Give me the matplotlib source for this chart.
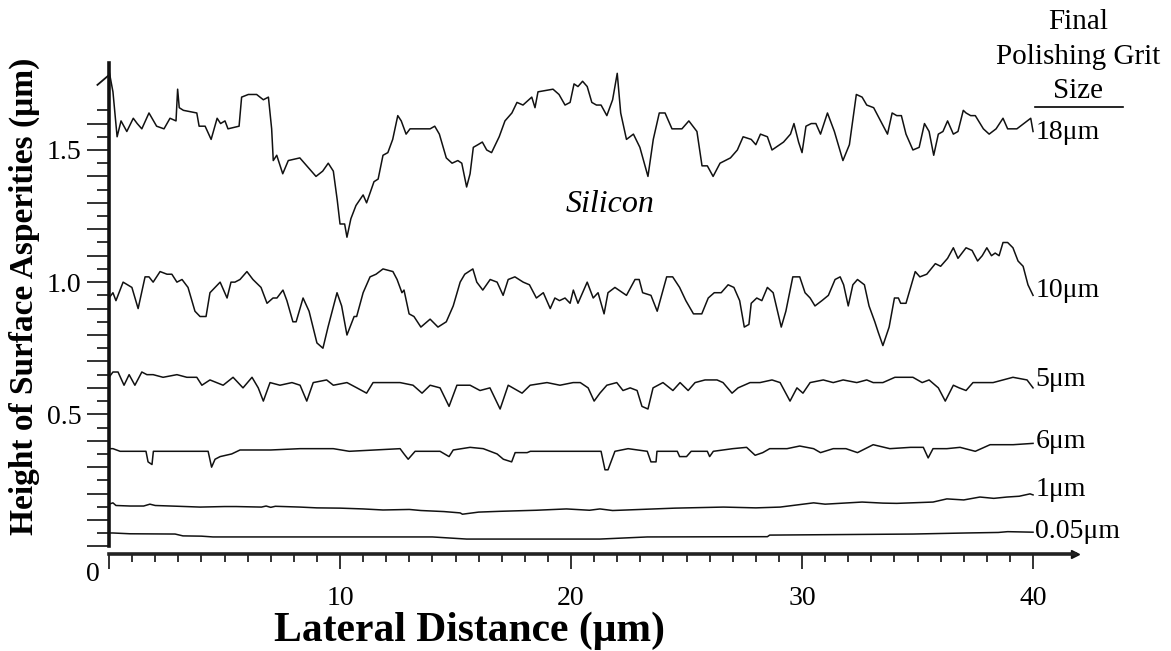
import numpy as np
import matplotlib
matplotlib.use("Agg")
import matplotlib.pyplot as plt
from matplotlib.lines import Line2D
from matplotlib.ticker import FixedLocator, FixedFormatter

# surface profiles, x in um, height in um
x_18 = [0.0, 0.17, 0.35, 0.52, 0.77, 1.05, 1.22, 1.42, 1.73, 2.06, 2.38, 2.64, 2.90, 2.97, 3.04,
        3.22, 3.80, 3.90, 4.16, 4.42, 4.68, 4.83, 5.02, 5.15, 5.63, 5.74, 6.03, 6.39, 6.68, 6.90,
        7.04, 7.11, 7.26, 7.52, 7.76, 8.26, 8.56, 8.96, 9.25, 9.49, 9.71, 9.88, 10.0, 10.2, 10.3,
        10.47, 10.69, 11.0, 11.15, 11.47, 11.65, 11.86, 12.07, 12.28, 12.50, 12.65, 12.86, 13.03,
        13.32, 13.9, 14.1, 14.3, 14.6, 14.85, 15.1, 15.27, 15.48, 15.63, 15.77, 15.97, 16.16,
        16.35, 16.56, 16.89, 17.14, 17.44, 17.66, 17.92, 18.3, 18.44, 18.57, 19.22, 19.48, 19.74,
        19.96, 20.13, 20.3, 20.5, 20.7, 20.9, 21.1, 21.3, 21.55, 21.8, 22.0, 22.15, 22.4, 22.7,
        22.98, 23.33, 23.56, 23.82, 24.07, 24.37, 24.8, 25.1, 25.45, 25.67, 25.9, 26.15, 26.45,
        26.9, 27.2, 27.45, 27.8, 28.0, 28.2, 28.5, 28.7, 29.2, 29.5, 29.65, 29.85, 30.0, 30.17,
        30.4, 30.6, 30.8, 31.1, 31.4, 31.77, 32.05, 32.35, 32.6, 32.8, 33.1, 33.4, 33.7, 33.9,
        34.1, 34.3, 34.5, 34.8, 35.07, 35.3, 35.5, 35.7, 35.9, 36.1, 36.3, 36.55, 36.75, 36.98,
        37.1, 37.3, 37.5, 37.85, 38.1, 38.4, 38.7, 38.9, 39.3, 39.6, 39.9, 40.0]
y_18 = [1.80, 1.72, 1.55, 1.61, 1.57, 1.62, 1.60, 1.58, 1.64, 1.59, 1.58, 1.62, 1.61, 1.73, 1.66,
        1.65, 1.64, 1.59, 1.59, 1.54, 1.62, 1.60, 1.61, 1.58, 1.59, 1.70, 1.71, 1.71, 1.69, 1.70,
        1.58, 1.46, 1.48, 1.41, 1.46, 1.47, 1.44, 1.40, 1.42, 1.45, 1.42, 1.31, 1.22, 1.22, 1.17,
        1.24, 1.29, 1.33, 1.30, 1.38, 1.39, 1.48, 1.49, 1.54, 1.63, 1.61, 1.56, 1.58,
        1.58, 1.58, 1.59, 1.56, 1.47, 1.45, 1.46, 1.45, 1.36, 1.41, 1.51, 1.52, 1.53,
        1.50, 1.49, 1.55, 1.61, 1.64, 1.68, 1.67, 1.70, 1.66, 1.72, 1.73, 1.71, 1.67,
        1.68, 1.75, 1.74, 1.76, 1.74, 1.68, 1.67, 1.67, 1.63, 1.69, 1.79, 1.64, 1.54, 1.56,
        1.51, 1.40, 1.54, 1.64, 1.64, 1.58, 1.58, 1.61, 1.57, 1.44, 1.44, 1.40, 1.45,
        1.47, 1.50, 1.55, 1.54, 1.52, 1.56, 1.55, 1.50, 1.53, 1.56, 1.60, 1.53, 1.49, 1.59,
        1.60, 1.60, 1.56, 1.64, 1.57, 1.46, 1.52, 1.71, 1.70, 1.67, 1.66, 1.61, 1.56, 1.64,
        1.63, 1.63, 1.56, 1.50, 1.51, 1.60, 1.57, 1.48, 1.56, 1.57, 1.61, 1.56, 1.57, 1.65,
        1.64, 1.63, 1.63, 1.58, 1.56, 1.58, 1.62, 1.58, 1.58, 1.60, 1.62, 1.57]

x_10 = [0.0, 0.17, 0.30, 0.61, 0.99, 1.26, 1.56, 1.73, 1.91, 2.21, 2.51, 2.72, 2.94, 3.16, 3.42,
        3.72, 3.94, 4.20, 4.37, 4.59, 4.81, 5.11, 5.28, 5.45, 5.67, 5.97, 6.23, 6.58, 6.84, 7.10,
        7.27, 7.53, 7.70, 7.96, 8.10, 8.40, 8.66, 9.00, 9.26, 9.48, 9.87, 10.07, 10.30, 10.61,
        10.72, 11.0, 11.3, 11.56, 11.86, 12.29, 12.47, 12.68, 12.77, 12.99, 13.20, 13.5, 13.9,
        14.24, 14.6, 14.9, 15.2, 15.4, 15.75, 15.92, 16.18, 16.5, 16.8, 17.06, 17.28, 17.57,
        17.93, 18.2, 18.5, 18.8, 19.1, 19.3, 19.5, 19.74, 19.96, 20.1, 20.3, 20.7, 20.96, 21.17,
        21.43, 21.6, 21.9, 22.4, 22.77, 22.95, 23.1, 23.46, 23.73, 24.14, 24.4, 24.7, 24.97,
        25.3, 25.66, 25.94, 26.2, 26.5, 26.8, 27.05, 27.3, 27.5, 27.7, 27.8, 28.04, 28.26, 28.5,
        28.75, 29.1, 29.3, 29.6, 29.9, 30.13, 30.35, 30.56, 30.86, 31.14, 31.43, 31.65, 31.8,
        32.0, 32.2, 32.4, 32.7, 32.9, 33.15, 33.3, 33.5, 33.77, 34.0, 34.17, 34.27, 34.5, 34.7,
        34.9, 35.1, 35.4, 35.77, 36.0, 36.3, 36.55, 36.75, 37.1, 37.36, 37.6, 37.8, 38.0, 38.2,
        38.36, 38.53, 38.7, 38.9, 39.13, 39.35, 39.57, 39.78, 40.0]
y_10 = [0.94, 0.96, 0.93, 1.00, 0.98, 0.90, 1.02, 1.02, 1.00, 1.04, 1.03, 1.03, 1.00, 1.01, 0.98,
        0.89, 0.87, 0.87, 0.96, 0.98, 1.00, 0.94, 1.00, 1.00, 1.01, 1.04, 1.01, 0.98, 0.92, 0.94,
        0.94, 0.97, 0.93, 0.85, 0.85, 0.94, 0.89, 0.77, 0.75, 0.83, 0.96, 0.91, 0.80, 0.87,
        0.87, 0.96, 1.02, 1.03, 1.05, 1.04, 1.01, 0.96, 0.97, 0.88, 0.87, 0.83, 0.86,
        0.83, 0.85, 0.91, 1.00, 1.03, 1.05, 1.00, 0.97, 1.01, 1.00, 0.95, 1.01, 1.02,
        1.00, 0.99, 0.94, 0.96, 0.90, 0.94, 0.93, 0.94, 0.92, 0.97, 0.92, 1.00, 0.94, 0.96,
        0.88, 0.96, 0.98, 0.95, 1.01, 1.01, 0.96, 0.95, 0.89, 1.02, 1.02, 0.98, 0.93,
        0.88, 0.88, 0.94, 0.96, 0.96, 0.99, 0.98, 0.93, 0.83, 0.84, 0.92, 0.94, 0.93, 0.98,
        0.96, 0.83, 0.89, 1.02, 1.02, 0.96, 0.94, 0.91, 0.93, 0.95, 1.01, 1.02, 0.99,
        0.91, 0.99, 1.01, 0.99, 0.91, 0.85, 0.81, 0.76, 0.83, 0.94, 0.94, 0.92, 0.92, 0.98,
        1.04, 1.02, 1.03, 1.07, 1.06, 1.09, 1.13, 1.09, 1.13, 1.12, 1.08, 1.10, 1.13, 1.10,
        1.11, 1.10, 1.15, 1.15, 1.13, 1.08, 1.06, 0.99, 0.95]

x_5 = [0.0, 0.17, 0.39, 0.65, 0.87, 1.12, 1.42, 1.64, 1.91, 2.34, 2.94, 3.37, 3.8, 4.02, 4.37,
       4.94, 5.37, 5.8, 6.19, 6.46, 6.68, 6.97, 7.4, 7.92, 8.27, 8.56, 8.84, 9.42, 9.71, 10.3,
       10.73, 11.15, 11.43, 12.03, 12.6, 13.16, 13.55, 13.9, 14.33, 14.72, 15.06, 15.63, 16.06,
       16.49, 16.93, 17.28, 17.88, 18.23, 18.96, 19.52, 20.09, 20.4, 20.74, 21.0, 21.25, 21.55,
       21.98, 22.25, 22.56, 22.86, 23.07, 23.33, 23.55, 23.98, 24.41, 24.72, 25.07, 25.37, 25.8,
       26.32, 26.58, 26.97, 27.23, 27.75, 28.18, 28.7, 29.05, 29.48, 29.78, 30.04, 30.35, 30.92,
       31.35, 31.78, 32.37, 32.8, 33.08, 33.5, 34.02, 34.38, 34.8, 35.2, 35.5, 35.9, 36.2, 36.55,
       36.8, 37.1, 37.4, 37.8, 38.27, 38.7, 39.13, 39.74, 40.0]
y_5 = [0.64, 0.66, 0.66, 0.61, 0.65, 0.61, 0.66, 0.65, 0.65, 0.64, 0.65, 0.64, 0.64, 0.61, 0.63,
       0.61, 0.64, 0.60, 0.64, 0.60, 0.55, 0.62, 0.61, 0.62, 0.61, 0.55, 0.62, 0.63, 0.61, 0.62,
       0.60, 0.58, 0.62, 0.62, 0.62, 0.61, 0.58, 0.61, 0.60, 0.53, 0.61, 0.61, 0.59,
       0.60, 0.52, 0.61, 0.58, 0.61, 0.62, 0.61, 0.62, 0.62, 0.60, 0.55, 0.58, 0.61,
       0.62, 0.59, 0.60, 0.59, 0.53, 0.52, 0.60, 0.62, 0.59, 0.62, 0.59, 0.62, 0.63,
       0.63, 0.62, 0.58, 0.60, 0.62, 0.62, 0.63, 0.62, 0.55, 0.60, 0.58, 0.62, 0.63,
       0.62, 0.63, 0.62, 0.63, 0.62, 0.62, 0.64, 0.64, 0.64, 0.62, 0.63, 0.60, 0.55, 0.61,
       0.60, 0.59, 0.62, 0.62, 0.62, 0.63, 0.64, 0.63, 0.60]

x_6 = [0.0, 0.17, 0.48, 1.6, 1.69, 1.86, 1.92, 3.0, 4.29, 4.44, 4.59, 4.81, 5.31, 5.67, 7.0, 8.27,
       9.71, 10.4, 11.5, 12.6, 12.77, 12.95, 13.25, 14.33, 14.72, 14.9, 15.63, 16.2, 16.8, 17.07,
       17.43, 17.58, 18.1, 18.24, 19.5, 21.3, 21.47, 21.6, 21.9, 22.47, 23.3, 23.46, 23.68, 23.72,
       24.6, 24.7, 25.0, 25.2, 25.9, 26.0, 26.16, 27.0, 27.6, 27.97, 28.3, 28.6, 29.35, 29.9,
       30.5, 30.8, 31.35, 31.9, 32.4, 33.08, 33.8, 34.7, 35.25, 35.46, 35.67, 36.27, 36.84,
       37.5, 38.14, 39.14, 40.0]
y_6 = [0.37, 0.37, 0.36, 0.36, 0.32, 0.31, 0.36, 0.36, 0.36, 0.30, 0.33, 0.34, 0.35, 0.365, 0.365,
       0.37, 0.37, 0.36, 0.365, 0.37, 0.35, 0.33, 0.36, 0.36, 0.34, 0.365, 0.375, 0.37, 0.35, 0.33,
       0.32, 0.355, 0.355, 0.36, 0.36, 0.36, 0.29, 0.29, 0.36, 0.37, 0.36, 0.32, 0.32, 0.36,
       0.36, 0.34, 0.34, 0.36, 0.36, 0.34, 0.36, 0.37, 0.375, 0.345, 0.355, 0.37, 0.37, 0.38,
       0.37, 0.355, 0.37, 0.37, 0.355, 0.385, 0.37, 0.375, 0.375, 0.335, 0.37, 0.37, 0.375,
       0.36, 0.385, 0.385, 0.39]

x_1 = [0.0, 0.17, 0.3, 0.91, 1.5, 1.77, 2.0, 3.0, 3.94, 5.0, 5.5, 6.6, 6.8, 7.0, 7.2, 8.27, 9.0,
       10.0, 11.0, 11.86, 13.0, 13.5, 14.5, 15.2, 15.3, 16.0, 16.93, 18.5, 19.8, 20.8, 21.25,
       21.8, 22.4, 24.5, 26.6, 28.0, 29.05, 30.5, 31.0, 32.6, 33.5, 34.1, 35.67, 36.27, 37.0,
       37.7, 38.3, 38.87, 39.4, 39.87, 40.0]
y_1 = [0.16, 0.165, 0.155, 0.153, 0.153, 0.16, 0.155, 0.152, 0.149, 0.151, 0.151, 0.149, 0.153,
       0.148, 0.152, 0.149, 0.146, 0.145, 0.142, 0.138, 0.14, 0.136, 0.132, 0.127, 0.122, 0.13,
       0.133, 0.137, 0.142, 0.137, 0.142, 0.136, 0.138, 0.145, 0.149, 0.146, 0.149, 0.165, 0.16,
       0.168, 0.164, 0.163, 0.168, 0.18, 0.176, 0.187, 0.182, 0.187, 0.19, 0.199, 0.195]

x_005 = [0.0, 0.17, 0.9, 2.86, 3.2, 4.0, 4.5, 14.0, 15.48, 21.25, 23.3, 28.5, 28.6, 34.8, 37.1,
         38.5, 38.9, 40.0]
y_005 = [0.051, 0.051, 0.048, 0.047, 0.04, 0.039, 0.036, 0.036, 0.028, 0.028, 0.036, 0.037,
         0.043, 0.047, 0.051, 0.053, 0.056, 0.054]

grit_labels = ["18\u03bcm", "10\u03bcm", "5\u03bcm", "6\u03bcm", "1\u03bcm", "0.05\u03bcm"]
grit_label_y = [1.565, 0.97, 0.63, 0.396, 0.214, 0.055]

profiles = [(x_18, y_18), (x_10, y_10), (x_5, y_5), (x_6, y_6), (x_1, y_1), (x_005, y_005)]

plt.rcParams["font.family"] = ["Liberation Serif", "DejaVu Serif"]

fig = plt.figure(figsize=(11.71, 6.51), dpi=100)
ax = fig.add_axes([0.0931, 0.1484, 0.8246, 0.7552])

for xs, ys in profiles:
    ax.plot(xs, ys, color="#111111", linewidth=1.1)

ax.set_xlim(0, 41.8)
ax.set_ylim(-0.03, 1.83)

# axes style
for side in ["top", "right"]:
    ax.spines[side].set_visible(False)
ax.spines["left"].set_bounds(0, 1.83)
ax.spines["left"].set_linewidth(2.6)
ax.spines["bottom"].set_linewidth(2.6)
ax.spines["left"].set_color("#111111")
ax.spines["bottom"].set_color("#222222")

y_major = np.round(np.arange(0, 1.61, 0.1), 2)
y_minor = np.round(np.arange(0.05, 1.66, 0.1), 2)
ax.yaxis.set_major_locator(FixedLocator(y_major))
ax.yaxis.set_major_formatter(FixedFormatter(
    ["0.5" if abs(v - 0.5) < 1e-6 else "1.0" if abs(v - 1.0) < 1e-6 else
     "1.5" if abs(v - 1.5) < 1e-6 else "" for v in y_major]))
ax.yaxis.set_minor_locator(FixedLocator(y_minor))

x_major = [0, 10, 20, 30, 40]
ax.xaxis.set_major_locator(FixedLocator(x_major))
ax.xaxis.set_major_formatter(FixedFormatter(["", "10", "20", "30", "40"]))
ax.xaxis.set_minor_locator(FixedLocator([v for v in range(1, 40) if v % 10]))

ax.tick_params(axis="y", which="major", direction="out", length=16, width=1.2,
               labelsize=20, pad=4, color="#111111")
ax.tick_params(axis="y", which="minor", direction="out", length=9, width=1.2, color="#111111")
ax.tick_params(axis="x", which="major", direction="out", length=11, width=1.2,
               labelsize=20, pad=12, color="#111111")
ax.tick_params(axis="x", which="minor", direction="out", length=5.5, width=1.2, color="#111111")

# arrow tips at the axis ends
ax.plot([1.0], [0.0], marker=">", color="#111111", markersize=6,
        transform=ax.transAxes, clip_on=False)
ax.plot([-0.012, 0.0], [0.955, 0.975], color="#111111", linewidth=1.3,
        transform=ax.transAxes, clip_on=False)

# origin label
fig.text(0.079, 0.117, "0", fontsize=20, ha="center", va="center")

# right hand labels for each profile
for lab, yy in zip(grit_labels, grit_label_y):
    ax.text(40.1, yy, lab, fontsize=20, ha="left", va="center", clip_on=False)

hx = 1078 / 1171
fig.text(hx, 0.966, "Final", fontsize=21, ha="center", va="center")
fig.text(hx, 0.912, "Polishing Grit", fontsize=21, ha="center", va="center")
fig.text(hx, 0.860, "Size", fontsize=21, ha="center", va="center")
fig.add_artist(Line2D([1035 / 1171, 1123 / 1171], [1 - 107 / 651, 1 - 107 / 651],
                      color="black", linewidth=1.2))

fig.text(0.521, 0.686, "Silicon", fontsize=23, style="italic", ha="center", va="center")

fig.text(0.401, 0.015, "Lateral Distance (\u03bcm)", fontsize=30, fontweight="bold",
         ha="center", va="baseline")
fig.text(0.021, 0.545, "Height of Surface Asperities (\u03bcm)", fontsize=24,
         fontweight="bold", ha="center", va="center", rotation=90)

fig.savefig("out.png", dpi=100)
